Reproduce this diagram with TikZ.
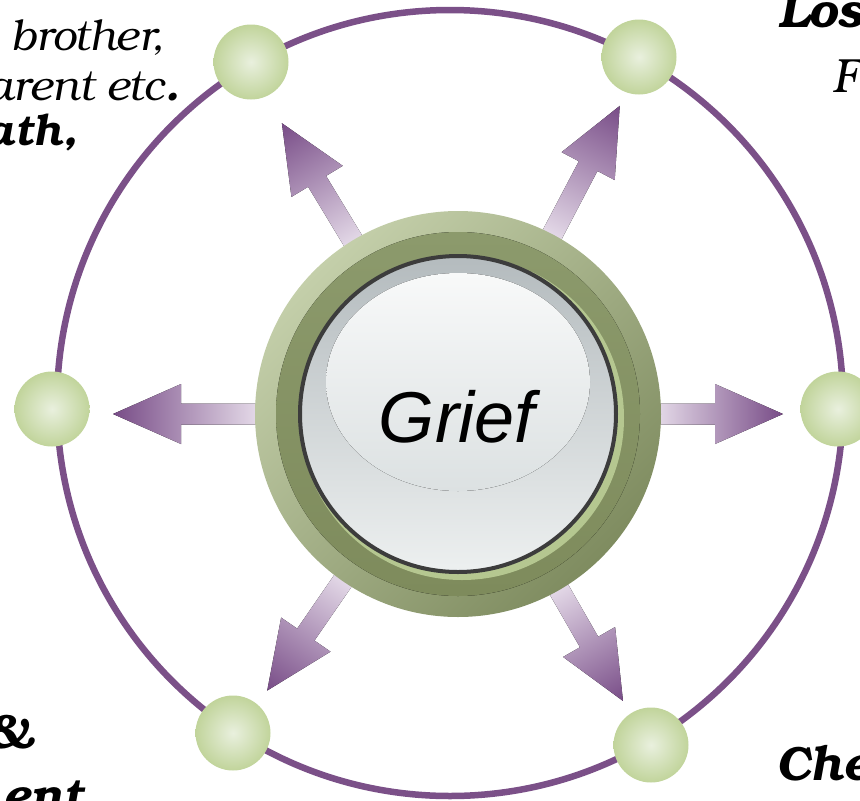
\documentclass[tikz,border=0pt]{standalone}
\usepackage{fontspec}
\setmainfont{Liberation Serif}
\newfontfamily\bonum{TeX Gyre Bonum}
\newfontfamily\arialfont{Liberation Sans}

% Colori
\definecolor{viola}{HTML}{7B5088}
\definecolor{violachiaro}{HTML}{ECE4EF}
\definecolor{violascuro}{HTML}{784C87}
\definecolor{verdeluce}{HTML}{E9F0DE}
\definecolor{verdepalla}{HTML}{C1D49B}
\definecolor{anellochiaro}{HTML}{C4CFAA}
\definecolor{anelloscuro}{HTML}{7F8C60}
\definecolor{fasciasu}{HTML}{8C9A6C}
\definecolor{fasciagiu}{HTML}{7E8B5C}
\definecolor{riflesso}{HTML}{B5C790}
\definecolor{bordo}{HTML}{3C3C3C}
\definecolor{vetrosu}{HTML}{B4BBBE}
\definecolor{vetrogiu}{HTML}{EDF0F0}
\definecolor{lucesu}{HTML}{F8F9F9}
\definecolor{lucegiu}{HTML}{DCE1E2}

\tikzset{
  palla/.style={circle, minimum size=75pt, inner sep=0pt, inner color=verdeluce, outer color=verdepalla},
  freccia/.style={left color=violachiaro, right color=violascuro},
  testo/.style={inner sep=0pt, font=\bonum\fontsize{48}{56}\selectfont},
  testopic/.style={inner sep=0pt, font=\bonum\fontsize{43}{50}\selectfont},
}

\begin{document}
\begin{tikzpicture}[x=1pt, y=-1pt]
        % Dimensioni
        \def\ra{203}   % anello esterno
        \def\rf{182}   % fascia
        \def\rv{158}   % vetro
        \def\lt{68}    % lunghezza punta

        \useasboundingbox (0,0) rectangle (860,801);
        \clip (0,0) rectangle (860,801);

        % Cerchio esterno
        \draw[viola, line width=6.5pt] (450,403) circle (393pt);

        % Frecce (dal centro verso l'esterno)
        \foreach \ang/\tip in {180/345, 0/325, 121.2/340, 62.3/348, 235.4/336, 299.9/331}{
          \fill[freccia, transform canvas={shift={(458,414)}, rotate=\ang}]
            (190,-10.5) -- (\tip-\lt,-10.5) -- (\tip-\lt,-30) -- (\tip,0)
            -- (\tip-\lt,30) -- (\tip-\lt,10.5) -- (190,10.5) -- cycle;
        }

        % Palline
        \node[palla] (c1) at (251,62) {};
        \node[palla] (c2) at (639,57) {};
        \node[palla] (c3) at (52,409) {};
        \node[palla] (c4) at (838,409) {};
        \node[palla] (c5) at (233,733) {};
        \node[palla] (c6) at (651,745) {};

        % Bottone centrale
        \node[circle, inner sep=0pt, minimum size=2*\ra pt, top color=anellochiaro, bottom color=anelloscuro, shading angle=45] (grief) at (458,414) {};
        \fill[top color=fasciasu, bottom color=fasciagiu] (grief.center) circle (\rf pt);
        \fill[riflesso] ([shift={(4,4)}]grief.center) circle (\rv pt + 4pt);
        \draw[bordo, line width=4pt, top color=vetrosu, bottom color=vetrogiu] (grief.center) circle (\rv pt);
        \fill[top color=lucesu, bottom color=lucegiu] ([shift={(0,-32)}]grief.center) ellipse (132pt and 109pt);
        \node[anchor=base, inner sep=0pt, font=\arialfont\itshape\fontsize{72}{80}\selectfont] (titolo) at (457,442) {Grief};

        % Testi ai bordi
        \node[testopic, anchor=base east] (t1) at (165,50) {\itshape brother,};
        \node[testopic, anchor=base east] (t2) at (179,100) {\itshape arent etc\textbf{.}};
        \node[testopic, anchor=base east] (t3) at (77,145) {\bfseries\itshape ath,};
        \node[testo, anchor=base west] (t4) at (778,27) {\bfseries\itshape Los};
        \node[testo, anchor=base west] (t5) at (832,92) {\itshape F};
        \node[testo, anchor=base east] (t6) at (34,748) {\bfseries\itshape \&};
        \node[testo, anchor=base east] (t7) at (84,812) {\bfseries\itshape ent};
        \node[testo, anchor=base west] (t8) at (776,780) {\bfseries\itshape Che};

    \end{tikzpicture}
\end{document}
